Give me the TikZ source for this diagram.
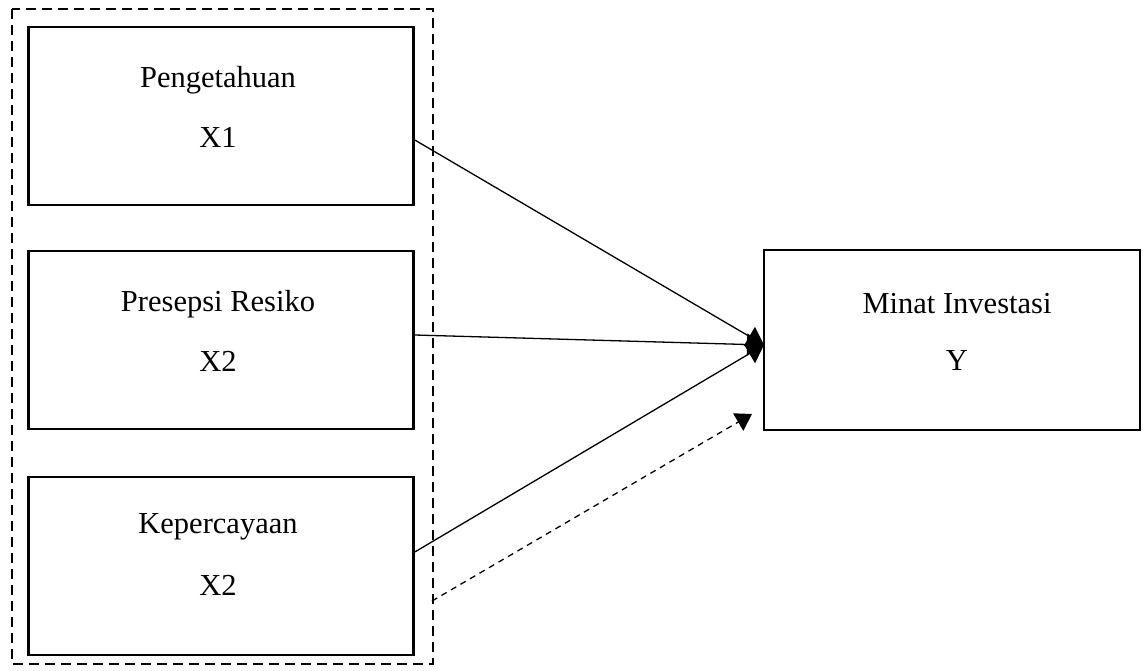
\documentclass[tikz,border=0pt]{standalone}
\usepackage{fontspec}
\setmainfont{Liberation Serif}
\usetikzlibrary{arrows.meta}
\begin{document}
\begin{tikzpicture}[x=1pt,y=-1pt,
  varbox/.style={draw,line width=2.6pt,minimum width=385pt,minimum height=178pt,align=center,inner sep=0pt},
  lbl/.style={font=\fontsize{30.5}{36}\selectfont},
  conn/.style={line width=1.3pt,-{Triangle[length=17pt,width=22pt]}},
  dconn/.style={line width=1.3pt,dash pattern=on 6pt off 5pt,-{Triangle[length=16pt,width=20pt]}},
  groupbox/.style={draw,line width=2.6pt,dash pattern=on 10pt off 6pt}]
\useasboundingbox (0,0) rectangle (1143,671);
\draw[groupbox] (12,9) rectangle (433,664);
\node[varbox] (b1) at (221,116) {};
\node[varbox] (b2) at (221,340) {};
\node[varbox] (b3) at (221,566) {};
\node[varbox,minimum width=376pt,minimum height=180pt] (by) at (952,340) {};
\node[lbl] (t1a) at (218,80) {Pengetahuan};
\node[lbl] (t1b) at (218,137) {X1};
\node[lbl] (t2a) at (218,304) {Presepsi Resiko};
\node[lbl] (t2b) at (218,361) {X2};
\node[lbl] (t3a) at (218,527) {Kepercayaan};
\node[lbl] (t3b) at (218,585) {X2};
\node[lbl] (tya) at (957,304) {Minat Investasi};
\node[lbl] (tyb) at (957,361) {Y};
\coordinate (tip) at (764,345);
\coordinate (dtip) at (752,414);
\draw[conn] ([yshift=-24pt]b1.east) -- (tip);
\draw[conn] ([yshift=5pt]b2.east) -- (tip);
\draw[conn] ([yshift=14pt]b3.east) -- (tip);
\draw[dconn] (432,601) -- (dtip);
\end{tikzpicture}
\end{document}
